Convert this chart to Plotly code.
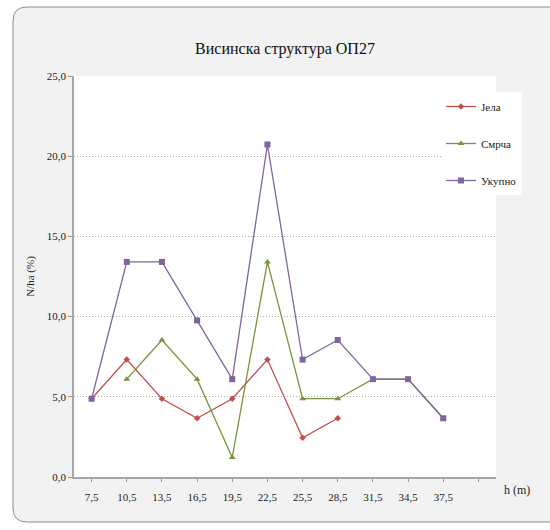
import plotly.graph_objects as go

categories = ["7,5", "10,5", "13,5", "16,5", "19,5", "22,5", "25,5", "28,5", "31,5", "34,5", "37,5", " "]
jela = [4.88, 7.32, 4.88, 3.66, 4.88, 7.32, 2.44, 3.66, None, None, None, None]
smrca = [None, 6.10, 8.54, 6.10, 1.22, 13.41, 4.88, 4.88, 6.10, 6.10, 3.66, None]
ukupno = [4.88, 13.41, 13.41, 9.76, 6.10, 20.73, 7.32, 8.54, 6.10, 6.10, 3.66, None]

W, H = 550, 530
L, R, T, B = 74, 496, 76, 477

def px(x):
    return (x - L) / (R - L)

def py(y):
    return (B - y) / (B - T)

fig = go.Figure()
series = [
    ("Јела", jela, "#c0504d", "diamond", 5),
    ("Смрча", smrca, "#77933c", "triangle-up", 6),
    ("Укупно", ukupno, "#8064a2", "square", 6),
]
for i, (name, vals, col, sym, ms) in enumerate(series):
    fig.add_trace(go.Scatter(
        x=categories, y=vals, name=name, mode="lines+markers",
        line=dict(color=col, width=1.3),
        marker=dict(symbol=sym, size=ms, color=col),
        legendgroup=str(i), connectgaps=False,
    ))

# frame with rounded corners
x0, x1, y0, y1, r = 13, 620, 7, 522, 14
path = (f"M {px(x0)},{py(y0 + r)} Q {px(x0)},{py(y0)} {px(x0 + r)},{py(y0)} "
        f"L {px(x1)},{py(y0)} L {px(x1)},{py(y1)} L {px(x0 + r)},{py(y1)} "
        f"Q {px(x0)},{py(y1)} {px(x0)},{py(y1 - r)} Z")
fig.add_shape(type="path", path=path, xref="paper", yref="paper",
              fillcolor="#f2f2f2", line=dict(color="#8c8c8c", width=1), layer="below")
fig.add_shape(type="rect", x0=0, x1=1, y0=0, y1=1, xref="paper", yref="paper",
              fillcolor="white", line=dict(width=0), layer="below")

fig.add_annotation(text="h (m)", x=px(502), y=py(490), xref="paper", yref="paper",
                   xanchor="left", yanchor="middle", showarrow=False,
                   font=dict(family="Liberation Serif", size=12, color="#222"))

fig.update_layout(
    width=W, height=H,
    margin=dict(l=L, r=W - R, t=T, b=H - B),
    paper_bgcolor="white", plot_bgcolor="rgba(0,0,0,0)",
    separators=",.",
    title=dict(text="Висинска структура ОП27", x=0.5, xref="paper", xanchor="center",
               y=1 - 48 / H, yanchor="middle",
               font=dict(family="Liberation Serif", size=16, color="#111")),
    font=dict(family="Liberation Serif", size=11, color="#222"),
    showlegend=True,
    legend=dict(x=px(441), y=py(92), xanchor="left", yanchor="top",
                bgcolor="white", tracegroupgap=18, itemwidth=30,
                font=dict(family="Liberation Serif", size=11, color="#222")),
    xaxis=dict(type="category", categoryorder="array", categoryarray=categories,
               range=[-0.5, 11.5], ticks="outside", ticklen=3, ticklabelstandoff=6,
               tickcolor="#999", showline=True, linecolor="#a6a6a6", linewidth=1.5,
               showgrid=False, tickfont=dict(size=11, family="Liberation Serif")),
    yaxis=dict(range=[0, 25], dtick=5, tickformat=".1f", ticks="outside", ticklen=4,
               tickcolor="#999", showline=True, linecolor="#a6a6a6", linewidth=1.5,
               showgrid=True, gridcolor="#a8a8a8", griddash="1px,2px", gridwidth=1,
               zeroline=False, tickfont=dict(size=11, family="Liberation Serif"),
               title=dict(text="N/ha (%)", font=dict(size=11, family="Liberation Serif"),
                          standoff=10)),
)

fig.write_html("out.html", config={"displayModeBar": False},
               post_script="document.body.style.margin='0';")
